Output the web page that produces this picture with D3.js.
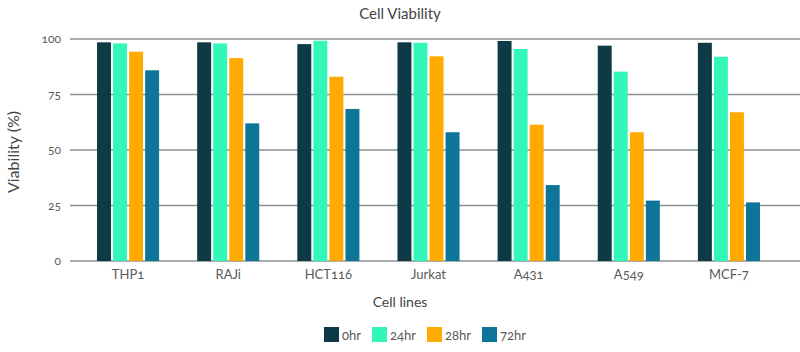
<!DOCTYPE html>
<html>
<head>
<meta charset="utf-8">
<script src="https://cdn.jsdelivr.net/npm/d3@7"></script>
<style>
  body { margin: 0; background: #fff; }
  text { font-family: Lato, "Open Sans", sans-serif; font-variant-numeric: oldstyle-nums; }
</style>
</head>
<body>
<div class="vis"></div>
<script>
// categories and series
const cellLines = ["THP1", "RAJi", "HCT116", "Jurkat", "A431", "A549", "MCF-7"];
const timePoints = ["0hr", "24hr", "28hr", "72hr"];
const v0hr = [98.5, 98.5, 97.7, 98.5, 99.1, 97, 98.3];
const v24hr = [98, 98, 99.2, 98.3, 95.5, 85.3, 92];
const v28hr = [94.3, 91.4, 83, 92.2, 61.4, 58, 67];
const v72hr = [85.9, 62, 68.5, 58, 34.2, 27.2, 26.4];
const yTicks = [0, 25, 50, 75, 100];
const colors = ["#0e3a45", "#33f7b9", "#ffaa00", "#0d7698"];

const series = [v0hr, v24hr, v28hr, v72hr];
const rows = cellLines.map((c, i) => ({
  cell: c,
  values: timePoints.map((t, j) => ({ key: t, value: series[j][i], idx: j }))
}));

const W = 800, H = 352;
const gridLeft = 70, gridRight = 800;

const svg = d3.select(".vis")
  .append("svg")
  .attr("width", W)
  .attr("height", H);

// scales
const x0 = d3.scaleBand().domain(cellLines).range([78, 779]).paddingInner(0.38).paddingOuter(0.19);
const x1 = d3.scaleBand().domain(timePoints).range([0, x0.bandwidth()]).paddingInner(0.13);
const y = d3.scaleLinear().domain([0, 100]).range([261, 39]);

// grid lines
svg.append("g")
  .selectAll("line")
  .data(yTicks)
  .enter().append("line")
  .attr("x1", gridLeft)
  .attr("x2", gridRight)
  .attr("y1", d => y(d))
  .attr("y2", d => y(d))
  .attr("stroke", "#8b9094")
  .attr("stroke-width", 1.5);

// y tick labels
svg.append("g")
  .selectAll("text")
  .data(yTicks)
  .enter().append("text")
  .attr("x", 61)
  .attr("y", d => y(d))
  .attr("dy", "0.35em")
  .attr("text-anchor", "end")
  .attr("fill", "#5a5a5a")
  .style("font-size", "12px")
  .text(d => d);

// bars
const groups = svg.append("g")
  .selectAll("g")
  .data(rows)
  .enter().append("g")
  .attr("transform", d => "translate(" + x0(d.cell) + ",0)");

groups.selectAll("rect")
  .data(d => d.values)
  .enter().append("rect")
  .attr("x", d => x1(d.key))
  .attr("width", x1.bandwidth())
  .attr("y", d => y(d.value))
  .attr("height", d => y(0) - y(d.value))
  .attr("fill", d => colors[d.idx]);

// x labels
svg.append("g")
  .selectAll("text")
  .data(cellLines)
  .enter().append("text")
  .attr("x", d => x0(d) + x0.bandwidth() / 2)
  .attr("y", 279)
  .attr("text-anchor", "middle")
  .attr("fill", "#5a5a5a")
  .style("font-size", "13px")
  .text(d => d);

// title
svg.append("text")
  .attr("x", 400)
  .attr("y", 19)
  .attr("text-anchor", "middle")
  .attr("fill", "#444")
  .style("font-size", "15px")
  .text("Cell Viability");

// axis titles
svg.append("text")
  .attr("transform", "rotate(-90)")
  .attr("x", -152)
  .attr("y", 19)
  .attr("text-anchor", "middle")
  .attr("fill", "#444")
  .style("font-size", "16px")
  .text("Viability (%)");

svg.append("text")
  .attr("x", 400)
  .attr("y", 307)
  .attr("text-anchor", "middle")
  .attr("fill", "#444")
  .style("font-size", "14px")
  .text("Cell lines");

// legend
const legendX = [324, 372, 427, 482];
const legend = svg.append("g")
  .selectAll("g")
  .data(timePoints)
  .enter().append("g")
  .attr("transform", (d, i) => "translate(" + legendX[i] + ",327)");

legend.append("rect")
  .attr("width", 15)
  .attr("height", 15)
  .attr("fill", (d, i) => colors[i]);

legend.append("text")
  .attr("x", 18)
  .attr("y", 8)
  .attr("dy", "0.35em")
  .attr("fill", "#5a5a5a")
  .style("font-size", "13px")
  .text(d => d);
</script>
</body>
</html>
